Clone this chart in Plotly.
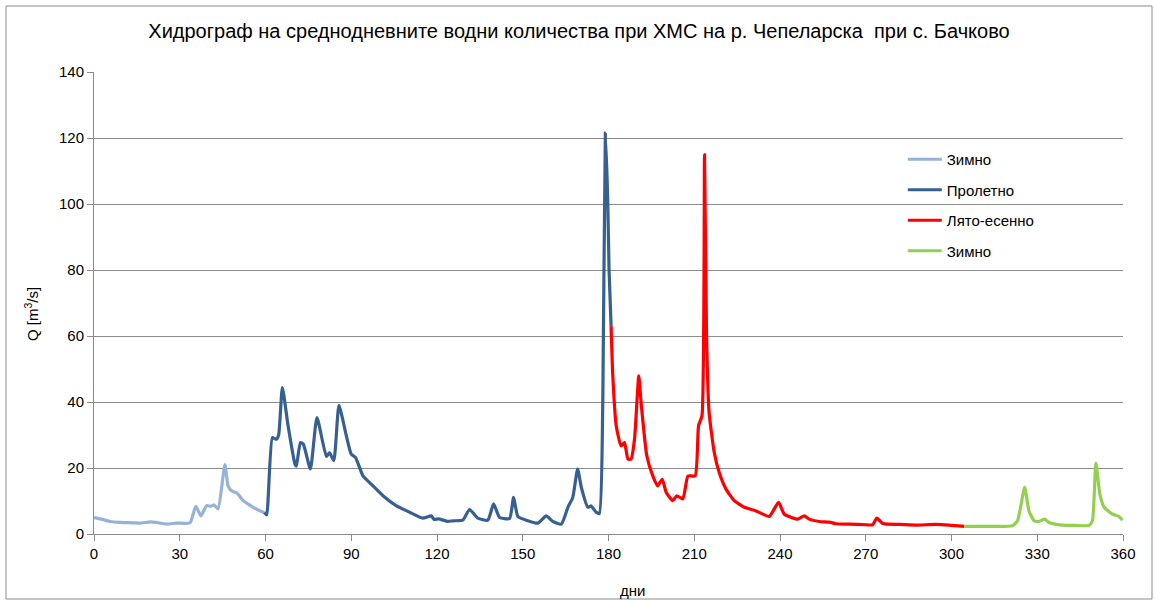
import plotly.graph_objects as go

# ---- data ----
winter1_days = [0, 2.5, 5.6, 9, 13.7, 16, 19.8, 21.9, 25.4, 28.9, 33.6, 35.6, 37.4, 39.4, 40.9, 42, 43.4,
                45.8, 46.9, 48.1, 50, 52.2, 55.7, 58.6, 59.6]
winter1_q = [5.0, 4.5, 3.8, 3.5, 3.4, 3.3, 3.7, 3.5, 3.0, 3.3, 3.4, 8.4, 5.5, 8.6, 8.4, 8.8, 7.6,
             21.0, 14.6, 13.1, 12.4, 10.1, 8.1, 6.8, 6.5]

spring_days = [59.6, 60.4, 62.4, 63.8, 64.6, 65.9, 67.9, 70.3, 70.8, 72.2, 73.2, 75.7, 78.0, 81.3, 82.4,
               83.9, 85.7, 88.3, 90.0, 91.5, 94.1, 97, 101.1, 105.7, 110.4, 115, 118, 119, 120.5, 123.8,
               125.6, 129, 131.4, 134.3, 137.8, 139.8, 141.9, 145.4, 146.8, 148.3, 151.2, 155.3, 158.2,
               160.5, 163.5, 165.8, 167.5, 169.2, 170.5, 172.8, 173.9, 175.7, 176.8, 178, 178.9, 179.7,
               180.2, 180.9]
spring_q = [6.5, 5.8, 29.2, 28.7, 30, 44.4, 32.8, 21.2, 20.6, 27.7, 27.3, 19.7, 35.3, 23.5, 24.6,
            22.2, 39, 29.7, 24.2, 23.2, 17.6, 15.1, 11.6, 8.6, 6.6, 4.8, 5.5, 4.4, 4.6, 3.8,
            4.0, 4.2, 7.4, 4.8, 4.2, 9.1, 5.0, 4.7, 11.1, 5.3, 4.2, 3.3, 5.5,
            3.8, 3.0, 8.1, 11.1, 19.7, 14.1, 8.1, 8.5, 6.6, 6.2, 39.8, 121.5, 102.3,
            80, 63]

summer_days = [180.9, 181.5, 182.7, 184.4, 185.6, 186.8, 187.9, 189.1, 190.6, 191.4, 193.4, 195.5, 197.2,
               198.8, 200.2, 202.5, 203.9, 206, 207.8, 210.3, 211.5, 212.7, 213.6, 214.3, 215.2, 217,
               218.7, 221.1, 224, 227.5, 231.6, 236.2, 239.5, 241.5, 246.1, 248.5, 250.2, 253.7, 257.2,
               259.6, 264.2, 270, 272.4, 273.9, 275.9, 281.7, 287.5, 294.5, 299.2, 304.4]
summer_q = [63, 47.9, 32.8, 26.7, 27.7, 22.7, 22.7, 28.7, 47.9, 39.8, 23.7, 17.6, 14.6,
            16.6, 12.6, 10.1, 11.6, 10.6, 17.6, 17.6, 32.8, 35.8, 114.9, 60, 36.8, 24.7,
            18.7, 13.6, 10.1, 8.1, 7.0, 5.3, 9.6, 6.0, 4.5, 5.5, 4.5, 3.8, 3.6,
            3.1, 3.0, 2.8, 2.8, 4.8, 3.2, 2.9, 2.7, 2.9, 2.7, 2.3]

winter2_days = [304.4, 309.7, 315.5, 321.3, 323.1, 325.6, 327.1, 328.9, 330.6, 332.6, 334.1, 338.8,
                343.4, 348.1, 349.3, 350.5, 351.9, 353.4, 356.3, 358.4, 359.8]
winter2_q = [2.3, 2.3, 2.3, 2.5, 4.0, 14.1, 7.0, 4.0, 3.8, 4.5, 3.5, 2.7,
             2.6, 2.6, 4.0, 21.5, 12.1, 8.1, 6.0, 5.4, 4.2]

series_names = ["Зимно", "Пролетно", "Лято-есенно", "Зимно"]
series_colors = ["#95B3D7", "#376092", "#FF0000", "#92D050"]

title_text = "Хидрограф на среднодневните водни количества при ХМС на р. Чепеларска  при с. Бачково"
x_title = "дни"
y_title = "Q [m<sup>3</sup>/s]"

FONT = "Liberation Sans, Arial, sans-serif"

# plot area in pixels (from the reference)
L, R, T, B = 94, 1123, 72, 534
W, H = R - L, B - T

fig = go.Figure()
data = [(winter1_days, winter1_q), (spring_days, spring_q), (summer_days, summer_q), (winter2_days, winter2_q)]
for i, ((xs, ys), name, color) in enumerate(zip(data, series_names, series_colors)):
    fig.add_trace(go.Scatter(
        x=xs, y=ys, mode="lines", name=name, legendgroup=f"g{i}",
        line=dict(color=color, width=3.2, shape="spline", smoothing=0.5),
    ))

grid_color = "#8C8C8C"
fig.update_layout(
    width=1155, height=601,
    paper_bgcolor="white", plot_bgcolor="white",
    margin=dict(l=L, r=1155 - R, t=T, b=601 - B, autoexpand=False),
    font=dict(family=FONT, size=15, color="#000000"),
    title=dict(text=title_text, x=579 / 1155, xanchor="center", y=1 - 31 / 601, yanchor="middle",
               font=dict(family=FONT, size=20, color="#000000")),
    showlegend=True,
    legend=dict(x=0.786, y=(B - 143) / H, xanchor="left", yanchor="top", bgcolor="rgba(0,0,0,0)",
                font=dict(size=15, color="#000000"), tracegroupgap=8, itemwidth=34),
    xaxis=dict(range=[0, 360], dtick=30, tick0=0, showgrid=False, zeroline=False, automargin=False,
               showline=True, linecolor=grid_color, linewidth=1,
               ticks="outside", ticklen=6, tickcolor=grid_color,
               tickfont=dict(size=15, color="#000000")),
    yaxis=dict(range=[0, 140], dtick=20, tick0=0, showgrid=True, gridcolor=grid_color, gridwidth=1,
               zeroline=False, showline=True, linecolor=grid_color, linewidth=1, automargin=False,
               ticks="outside", ticklen=6, tickcolor=grid_color,
               tickfont=dict(size=15, color="#000000")),
    annotations=[
        dict(text=x_title, xref="paper", yref="paper", x=(632 - L) / W, y=(B - 590) / H,
             xanchor="center", yanchor="middle", showarrow=False, font=dict(size=15, color="#000000")),
        dict(text=y_title, xref="paper", yref="paper", x=(31 - L) / W, y=(B - 314) / H,
             xanchor="center", yanchor="middle", textangle=-90, showarrow=False,
             font=dict(size=15, color="#000000")),
    ],
    shapes=[dict(type="rect", xref="paper", yref="paper",
                 x0=(6 - L) / W, x1=(1152 - L) / W,
                 y0=(B - 599) / H, y1=(B - 6) / H,
                 line=dict(color=grid_color, width=1), fillcolor="rgba(0,0,0,0)", layer="below")],
)

fig.write_html("out.html", config={"displayModeBar": False},
               post_script="document.body.style.margin='0';document.body.style.overflow='hidden';")
